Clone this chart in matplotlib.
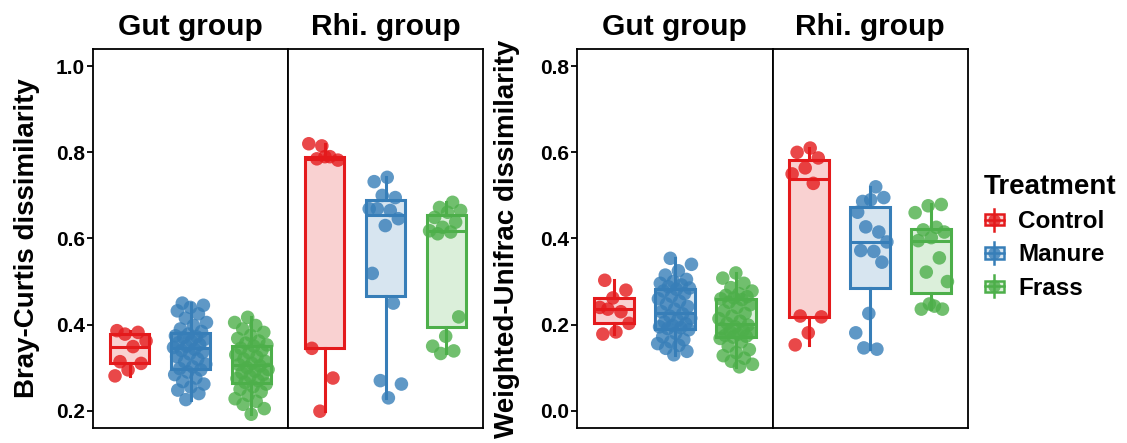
import numpy as np
import matplotlib
matplotlib.use("Agg")
import matplotlib.pyplot as plt
from matplotlib.legend_handler import HandlerBase
from matplotlib.patches import Rectangle
from matplotlib.lines import Line2D
from matplotlib.colors import to_rgba

plt.rcParams['font.family'] = ['Liberation Sans', 'DejaVu Sans']
plt.rcParams['font.weight'] = 'bold'

# ---- data -------------------------------------------------------------
treatments = ["Control", "Manure", "Frass"]
colors = ["#E41A1C", "#377EB8", "#4DAF4A"]
groups = ["Gut group", "Rhi. group"]

# Bray-Curtis dissimilarity
bc_gut_control = [0.386, 0.382, 0.378, 0.362, 0.349, 0.314, 0.310, 0.295, 0.281]
bc_gut_manure = [0.450, 0.445, 0.440, 0.432, 0.425, 0.415, 0.405, 0.398, 0.390, 0.384,
                 0.378, 0.374, 0.372, 0.370, 0.366, 0.362, 0.358, 0.354, 0.350, 0.347,
                 0.343, 0.340, 0.336, 0.332, 0.326, 0.320, 0.314, 0.308, 0.302, 0.298,
                 0.295, 0.290, 0.284, 0.276, 0.268, 0.262, 0.255, 0.248, 0.240, 0.226]
bc_gut_frass = [0.417, 0.405, 0.398, 0.390, 0.382, 0.375, 0.368, 0.362, 0.357, 0.353,
                0.350, 0.345, 0.340, 0.335, 0.330, 0.325, 0.320, 0.315, 0.310, 0.307,
                0.304, 0.300, 0.296, 0.292, 0.288, 0.284, 0.280, 0.275, 0.270, 0.266,
                0.262, 0.256, 0.250, 0.244, 0.236, 0.228, 0.222, 0.215, 0.205, 0.192]
bc_rhi_control = [0.815, 0.820, 0.790, 0.785, 0.782, 0.790, 0.345, 0.276, 0.199]
bc_rhi_manure = [0.742, 0.732, 0.695, 0.700, 0.669, 0.665, 0.669, 0.646, 0.630, 0.519,
                 0.450, 0.270, 0.262, 0.230]
bc_rhi_frass = [0.684, 0.672, 0.665, 0.661, 0.649, 0.638, 0.626, 0.618, 0.615, 0.611,
                0.418, 0.373, 0.350, 0.339, 0.333]

# Weighted-Unifrac dissimilarity
wu_gut_control = [0.303, 0.280, 0.262, 0.240, 0.230, 0.236, 0.203, 0.183, 0.178]
wu_gut_manure = [0.354, 0.340, 0.325, 0.315, 0.305, 0.300, 0.296, 0.292, 0.288, 0.285,
                 0.282, 0.278, 0.272, 0.266, 0.260, 0.254, 0.248, 0.242, 0.236, 0.230,
                 0.225, 0.220, 0.215, 0.210, 0.206, 0.202, 0.198, 0.195, 0.193, 0.191,
                 0.188, 0.180, 0.172, 0.165, 0.160, 0.156, 0.152, 0.145, 0.138, 0.130]
wu_gut_frass = [0.320, 0.308, 0.296, 0.286, 0.278, 0.272, 0.268, 0.265, 0.262, 0.260,
                0.258, 0.252, 0.246, 0.240, 0.232, 0.226, 0.220, 0.214, 0.208, 0.203,
                0.199, 0.195, 0.191, 0.187, 0.184, 0.181, 0.178, 0.175, 0.173, 0.171,
                0.168, 0.160, 0.150, 0.142, 0.135, 0.128, 0.122, 0.115, 0.108, 0.102]
wu_rhi_control = [0.610, 0.600, 0.587, 0.564, 0.550, 0.528, 0.220, 0.218, 0.181, 0.153]
wu_rhi_manure = [0.520, 0.486, 0.495, 0.490, 0.461, 0.415, 0.427, 0.392, 0.370, 0.372,
                 0.345, 0.226, 0.181, 0.143, 0.146]
wu_rhi_frass = [0.479, 0.476, 0.460, 0.426, 0.420, 0.415, 0.402, 0.395, 0.355, 0.322,
                0.300, 0.243, 0.236, 0.236, 0.248]

bc_ticks = [0.2, 0.4, 0.6, 0.8, 1.0]
wu_ticks = [0.0, 0.2, 0.4, 0.6, 0.8]

metrics = [
    dict(label="Bray-Curtis dissimilarity",
         facets=[[bc_gut_control, bc_gut_manure, bc_gut_frass],
                 [bc_rhi_control, bc_rhi_manure, bc_rhi_frass]],
         limits=(0.2, 1.0), ticks=bc_ticks),
    dict(label="Weighted-Unifrac dissimilarity",
         facets=[[wu_gut_control, wu_gut_manure, wu_gut_frass],
                 [wu_rhi_control, wu_rhi_manure, wu_rhi_frass]],
         limits=(0.0, 0.8), ticks=wu_ticks),
]

# ---- layout (pixels) --------------------------------------------------
W, H = 1127, 443
fig = plt.figure(figsize=(W / 100, H / 100), dpi=100)

panel_x = [(93, 288, 483), (577, 772.5, 968)]
top_px, bot_px = 49, 428
label_x = [27, 507]


def add_px_axes(x0, x1):
    return fig.add_axes([x0 / W, 1 - bot_px / H, (x1 - x0) / W, (bot_px - top_px) / H])


def jitter_offsets(n, width, phase):
    k = np.arange(n)
    return ((k * 0.6180339887 + phase) % 1.0 - 0.5) * 2 * width


box_lw = 2.2
positions = [1, 2, 3]

for m, metric in enumerate(metrics):
    lo, hi = metric["limits"]
    pad = (hi - lo) * 0.05
    xs = panel_x[m]
    for f in range(2):
        ax = add_px_axes(xs[f], xs[f + 1])
        data = metric["facets"][f]
        bp = ax.boxplot(data, positions=positions, widths=0.65, patch_artist=True,
                        showfliers=False, showcaps=False, zorder=2)
        for i, c in enumerate(colors):
            bp["boxes"][i].set_facecolor(to_rgba(c, 0.2))
            bp["boxes"][i].set_edgecolor(c)
            bp["boxes"][i].set_linewidth(box_lw)
            bp["medians"][i].set_color(c)
            bp["medians"][i].set_linewidth(box_lw)
            for w in bp["whiskers"][2 * i:2 * i + 2]:
                w.set_color(c)
                w.set_linewidth(box_lw)
        for i, (vals, c) in enumerate(zip(data, colors)):
            off = jitter_offsets(len(vals), 0.28, 0.13 * (i + 1) + 0.29 * f + 0.11 * m)
            ax.scatter(positions[i] + off, vals, s=95, color=c, alpha=0.8,
                       edgecolors="none", zorder=3)
        ax.set_xlim(0.4, 3.6)
        ax.set_ylim(lo - pad, hi + pad)
        ax.set_xticks([])
        for s in ax.spines.values():
            s.set_linewidth(1.3)
            s.set_color("black")
        if f == 0:
            ax.set_yticks(metric["ticks"])
            ax.set_yticklabels([f"{t:.1f}" for t in metric["ticks"]])
            ax.tick_params(axis="y", length=4, width=1.3, pad=2, labelsize=15,
                           colors="black")
        else:
            ax.set_yticks([])
        ax.text(0.5, 1 + 14 / (bot_px - top_px), groups[f], transform=ax.transAxes,
                ha="center", va="baseline", fontsize=21.5, fontweight="bold")
    fig.text(label_x[m] / W, 1 - (top_px + bot_px) / 2 / H, metric["label"],
             rotation=90, ha="center", va="center", fontsize=20, fontweight="bold")


# ---- legend: small boxplot glyphs with a point ------------------------
class BoxKey(HandlerBase):
    def create_artists(self, legend, orig_handle, xdescent, ydescent, width, height,
                       fontsize, trans):
        c = orig_handle.get_color()
        cx = width / 2 - xdescent
        cy = height / 2 - ydescent
        bw = width * 0.9
        bh = height * 0.6
        whisk = Line2D([cx, cx], [cy - height * 0.6, cy + height * 0.6], color=c,
                       lw=1.8, transform=trans)
        rect = Rectangle((cx - bw / 2, cy - bh / 2), bw, bh, facecolor=to_rgba(c, 0.2),
                         edgecolor=c, lw=1.8, transform=trans)
        med = Line2D([cx - bw / 2, cx + bw / 2], [cy, cy], color=c, lw=1.8,
                     transform=trans)
        dot = Line2D([cx], [cy], marker="o", markersize=9, color=c, alpha=0.8,
                     markeredgewidth=0, transform=trans)
        return [whisk, rect, med, dot]


handles = [Line2D([], [], color=c) for c in colors]
leg = fig.legend(handles, treatments, handler_map={Line2D: BoxKey()},
                 loc="upper left", bbox_to_anchor=(984 / W, 1 - 174 / H),
                 frameon=False, title="Treatment", fontsize=17.5,
                 title_fontproperties={"size": 20, "weight": "bold"},
                 handlelength=0.85, handleheight=0.8, handletextpad=0.55,
                 labelspacing=0.42, borderaxespad=0, borderpad=0)
leg._legend_box.align = "left"

fig.savefig("out.png", dpi=100)
